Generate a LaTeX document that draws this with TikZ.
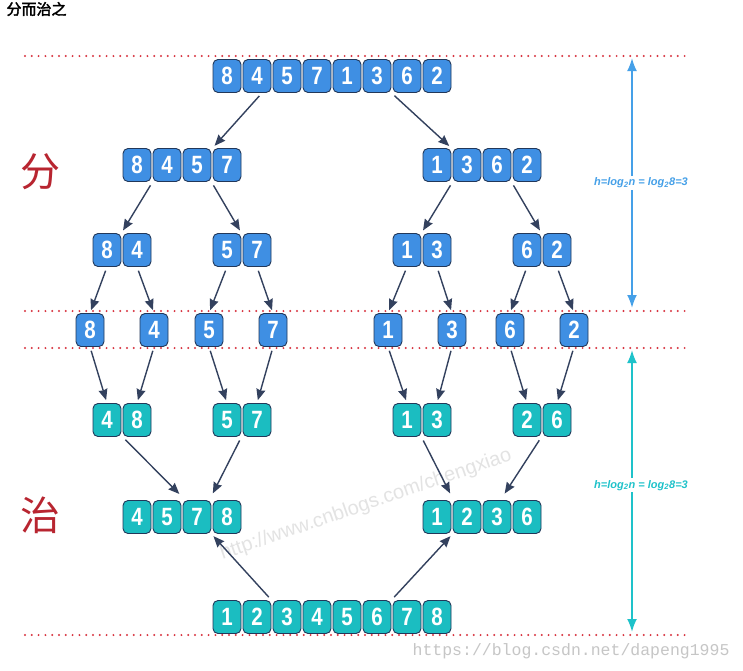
\documentclass[tikz,border=0pt]{standalone}
\usepackage{fontspec}
\setsansfont{Liberation Sans}
\setmonofont{Liberation Mono}
\newfontfamily\numfont[FakeStretch=0.82]{Liberation Sans}
\newfontfamily\cjk[AutoFakeBold=2.5]{Noto Sans CJK SC}
\usepackage{xcolor}
\usepackage{tikz}
\usetikzlibrary{arrows.meta,calc}

\definecolor{fenblue}{HTML}{3F8FE3}
\definecolor{zhicyan}{HTML}{1BBDC1}
\definecolor{edgec}{HTML}{22385A}
\definecolor{arrowc}{HTML}{33415E}
\definecolor{sepred}{HTML}{D8333F}
\definecolor{hblue}{HTML}{45A0E8}
\definecolor{hcyan}{HTML}{1EC2CA}
\definecolor{charred}{HTML}{B82530}

\begin{document}
\begin{tikzpicture}[
        x=1pt, y=-1pt,
        cell/.style={rectangle, draw=edgec, line width=0.9pt, rounded corners=5pt, minimum width=28pt, minimum height=33pt, inner sep=0pt, text=white, font=\numfont\bfseries\fontsize{25}{25}\selectfont},
        fen/.style={cell, fill=fenblue},
        zhi/.style={cell, fill=zhicyan},
        arrow/.style={draw=arrowc, line width=1.4pt, shorten <=4pt, shorten >=3pt, -{Stealth[length=11pt, width=9pt, inset=1pt]}},
        sepline/.style={draw=sepred, line width=2.2pt, line cap=round, dash pattern=on 0pt off 6.8pt},
        height/.style={line width=2pt, {Latex[length=13pt, width=10pt]}-{Latex[length=13pt, width=10pt]}},
        hlabel/.style={fill=white, inner sep=2pt, xshift=9pt, font=\sffamily\bfseries\itshape\fontsize{11}{12}\selectfont},
        bigchar/.style={text=charred, font=\cjk\fontsize{40}{40}\selectfont},
        stamp/.style={text=gray!22, font=\sffamily\fontsize{20}{20}\selectfont}
    ]
    \useasboundingbox [fill=white] (0,0) rectangle (743,670);

    % watermarks
    \node [stamp, rotate=19] (wmark) at (366,505) {http://www.cnblogs.com/chengxiao};
    \node [text=gray!45, font=\ttfamily\fontsize{16.5}{16.5}\selectfont, anchor=east] (url) at (733,651) {https://blog.csdn.net/dapeng1995};

    \node [font=\cjk\bfseries\fontsize{15}{15}\selectfont, anchor=west] (title) at (3,9) {分而治之};
    \node [bigchar] (divlabel) at (40,172) {分};
    \node [bigchar] (conqlabel) at (40,515) {治};

    % level separators
    \draw [sepline] (25,56) -- (690,56);
    \draw [sepline] (25,311) -- (690,311);
    \draw [sepline] (25,348) -- (690,348);
    \draw [sepline] (25,635) -- (688,635);

    % divide
    \foreach \d [count=\i] in {8,4,5,7,1,3,6,2}
        \node [fen] (all-\i) at ({197+30*\i},76) {\d};
    \foreach \d [count=\i] in {8,4,5,7}
        \node [fen] (n8457-\i) at ({107+30*\i},165) {\d};
    \foreach \d [count=\i] in {1,3,6,2}
        \node [fen] (n1362-\i) at ({407+30*\i},165) {\d};
    \foreach \d [count=\i] in {8,4}
        \node [fen] (n84-\i) at ({77+30*\i},250) {\d};
    \foreach \d [count=\i] in {5,7}
        \node [fen] (n57-\i) at ({197+30*\i},250) {\d};
    \foreach \d [count=\i] in {1,3}
        \node [fen] (n13-\i) at ({377+30*\i},250) {\d};
    \foreach \d [count=\i] in {6,2}
        \node [fen] (n62-\i) at ({497+30*\i},250) {\d};
    \foreach \d/\x [count=\i] in {8/90,4/154,5/209,7/273,1/388,3/452,6/510,2/574}
        \node [fen] (s\i) at (\x,330) {\d};

    % conquer
    \foreach \d [count=\i] in {4,8}
        \node [zhi] (m48-\i) at ({77+30*\i},420) {\d};
    \foreach \d [count=\i] in {5,7}
        \node [zhi] (m57-\i) at ({197+30*\i},420) {\d};
    \foreach \d [count=\i] in {1,3}
        \node [zhi] (m13-\i) at ({377+30*\i},420) {\d};
    \foreach \d [count=\i] in {2,6}
        \node [zhi] (m26-\i) at ({497+30*\i},420) {\d};
    \foreach \d [count=\i] in {4,5,7,8}
        \node [zhi] (m4578-\i) at ({107+30*\i},517) {\d};
    \foreach \d [count=\i] in {1,2,3,6}
        \node [zhi] (m1236-\i) at ({407+30*\i},517) {\d};
    \foreach \d [count=\i] in {1,2,3,4,5,6,7,8}
        \node [zhi] (sorted-\i) at ({197+30*\i},617) {\d};

    \path [arrow] ([xshift=5pt]all-2.south) -- (n8457-4.north west);
    \path [arrow] (all-6.south east) -- (n1362-1.north east);
    \path [arrow] (n8457-2.south west) -- (n84-1.north east);
    \path [arrow] (n8457-3.south east) -- (n57-1.north east);
    \path [arrow] (n1362-2.south west) -- (n13-1.north east);
    \path [arrow] (n1362-3.south east) -- (n62-1.north east);
    \foreach \a/\b in {n84-1/s1,n84-2/s2,n57-1/s3,n57-2/s4,n13-1/s5,n13-2/s6,n62-1/s7,n62-2/s8}
        \path [arrow] (\a.south) -- (\b.north);
    \foreach \a/\b in {s1/m48-1,s2/m48-2,s3/m57-1,s4/m57-2,s5/m13-1,s6/m13-2,s7/m26-1,s8/m26-2}
        \path [arrow] (\a.south) -- (\b.north);
    \path [arrow] (m48-2.south west) -- ([yshift=4pt]m4578-2.north east);
    \path [arrow] (m57-1.south east) -- ([yshift=4pt]m4578-3.north east);
    \path [arrow] (m13-1.south east) -- ([yshift=4pt]m1236-1.north east);
    \path [arrow] (m26-1.south east) -- ([xshift=6pt,yshift=4pt]m1236-3.north);
    \path [arrow] (sorted-2.north east) -- (m4578-3.south east);
    \path [arrow] (sorted-6.north east) -- (m1236-2.south west);

    % tree height
    \coordinate (htop) at (632,58);
    \coordinate (hmid) at (632,308);
    \coordinate (ctop) at (632,350);
    \coordinate (cbot) at (632,632);
    \draw [height, hblue] (htop) -- node [hlabel, text=hblue] {h=log\textsubscript{2}n = log\textsubscript{2}8=3} (hmid);
    \draw [height, hcyan] (ctop) -- node [hlabel, text=hcyan, pos=0.48] {h=log\textsubscript{2}n = log\textsubscript{2}8=3} (cbot);

\end{tikzpicture}
\end{document}
